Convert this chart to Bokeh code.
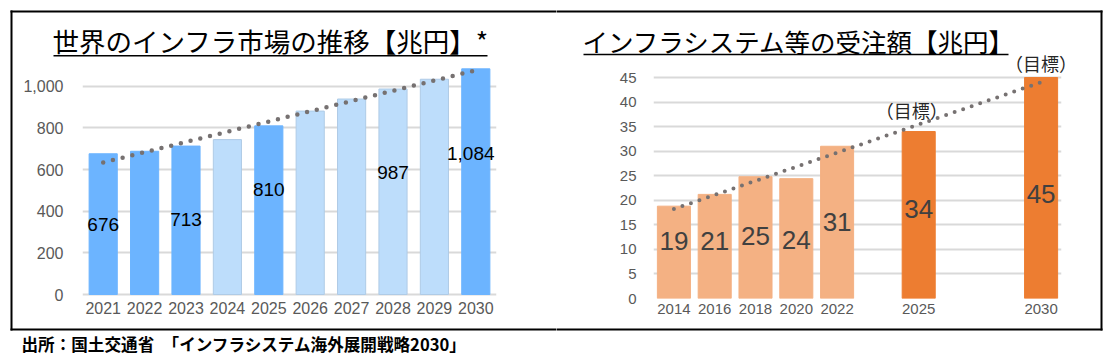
import numpy as np
from bokeh.plotting import figure
from bokeh.layouts import row
from bokeh.models import FixedTicker, NumeralTickFormatter
from bokeh.embed import file_html
from bokeh.resources import INLINE
from bokeh.core.properties import value

# ---------------- data ----------------
# World infrastructure market (trillion yen)
market_years = [2021, 2022, 2023, 2024, 2025, 2026, 2027, 2028, 2029, 2030]
market_values = [676, 688, 713, 744, 810, 881, 939, 987, 1034, 1084]
market_labeled_years = [2021, 2023, 2025, 2028, 2030]
market_title = "世界のインフラ市場の推移【兆円】*"

# Infrastructure system orders (trillion yen)
order_axis = ["2014", "2016", "2018", "2020", "2022", "", "2025", "", "", "2030"]
order_years = ["2014", "2016", "2018", "2020", "2022", "2025", "2030"]
order_values = [18.8, 21.2, 24.8, 24.4, 31.0, 34.0, 45.0]
order_target_years = ["2025", "2030"]
order_title = "インフラシステム等の受注額【兆円】"
target_text = "（目標）"

caption = "出所：国土交通省　「インフラシステム海外展開戦略2030」"

# ---------------- styles ----------------
DARK_BLUE, LIGHT_BLUE, LIGHT_BLUE_LINE = "#6CB4FF", "#BDDDFB", "#AFCBE6"
DARK_BLUE_YEARS = {2021, 2022, 2023, 2025, 2030}
LIGHT_ORANGE, DARK_ORANGE = "#F4B183", "#ED7D31"
GRID = "#D9D9D9"
TICK_COLOR = "#595959"
DOT_COLOR = "#767171"
NUM_FONT = "Liberation Sans"
JP_FONT = "Noto Sans CJK JP"
market_label_y = [335, 359, 503, 585, 676]
market_label_dx = [0, 0, 0, 0, -5]
order_label_y = [11.8, 11.8, 12.7, 12.0, 15.5, 18.3, 21.2]
target_label_y = [38.3, 47.9]
target_label_dx = [-7, 0]

# page geometry (px, page origin at 0,0): outer box 10..1102 x 10..330, border 2px
BOX_L, BOX_R, BOX_T, BOX_B = 10, 1102, 10, 330
SPLIT = 556
FRAME_T, FRAME_B = 65, 298          # common frame top/bottom for both charts
CANVAS_H = 358
L_ZERO_PX, L_PX_PER_UNIT = 294, 229 / 1100   # left chart: value 0 at y=294 px
R_ZERO_PX, R_PX_PER_UNIT = 298, 221 / 45     # right chart: value 0 at y=298 px


def base_fig(fw, x_end, y_start, y_end, ml, mr):
    p = figure(frame_width=fw, frame_height=FRAME_B - FRAME_T,
               x_range=(-0.5, x_end), y_range=(y_start, y_end),
               output_backend="svg", toolbar_location=None,
               min_border_left=ml, min_border_right=mr,
               min_border_top=FRAME_T, min_border_bottom=CANVAS_H - FRAME_B)
    p.title.visible = False
    p.outline_line_color = None
    p.background_fill_color = "white"
    p.border_fill_color = "white"
    p.xgrid.visible = False
    p.ygrid.grid_line_color = GRID
    p.ygrid.grid_line_width = 2
    for ax in (p.xaxis[0], p.yaxis[0]):
        ax.major_tick_line_color = None
        ax.minor_tick_line_color = None
        ax.major_tick_out = 0
        ax.major_tick_in = 0
        ax.axis_line_color = None
        ax.major_label_text_font = NUM_FONT
        ax.major_label_text_color = TICK_COLOR
    return p


def overlay_text(p, x, y, text, font, size, color="black", align="left", style="normal", dx=0):
    p.text(x=[x], y=[y], text=[text], text_font=value(font), text_font_size=size,
           text_color=color, text_align=align, text_baseline="middle",
           text_font_style=style, x_offset=dx, level="overlay")


def overlay_seg(p, x0, y0, x1, y1, width=2):
    p.segment(x0=[x0], y0=[y0], x1=[x1], y1=[y1], line_color="black",
              line_width=width, level="overlay")


# ---------------- left chart ----------------
# frame x 82..496 px
def d1x(px):
    return -0.5 + (px - 82) / 41.4


def d1y(py):
    return (L_ZERO_PX - py) / L_PX_PER_UNIT


p1 = base_fig(414, 9.5, d1y(FRAME_B), d1y(FRAME_T), 82, 60)
x1 = np.arange(len(market_years))
p1.xaxis.ticker = FixedTicker(ticks=list(x1))
p1.xaxis.major_label_overrides = {int(i): str(y) for i, y in zip(x1, market_years)}
p1.xaxis.major_label_text_font_size = "16px"
p1.xaxis.major_label_standoff = 3
p1.yaxis.ticker = FixedTicker(ticks=list(range(0, 1001, 200)))
p1.yaxis.formatter = NumeralTickFormatter(format="0,0")
p1.yaxis.major_label_text_font_size = "16px"
p1.yaxis.major_label_standoff = 19

fills1 = [DARK_BLUE if y in DARK_BLUE_YEARS else LIGHT_BLUE for y in market_years]
lines1 = [DARK_BLUE if y in DARK_BLUE_YEARS else LIGHT_BLUE_LINE for y in market_years]
p1.vbar(x=x1, top=market_values, bottom=0, width=0.68, fill_color=fills1, line_color=lines1, line_width=1)

c1 = np.polyfit(x1, market_values, 1)
tx1 = np.array([x1[0], x1[-1]], dtype=float)
p1.line(tx1, np.polyval(c1, tx1), line_color=DOT_COLOR, line_width=4.5, line_dash="0 10", line_cap="round")

for yr, ly, dx in zip(market_labeled_years, market_label_y, market_label_dx):
    i = market_years.index(yr)
    overlay_text(p1, i, ly, f"{market_values[i]:,}", NUM_FONT, "19px", align="center", dx=dx)

overlay_text(p1, d1x(52), d1y(40), market_title, JP_FONT, "26.5px")
overlay_seg(p1, d1x(53), d1y(55.2), d1x(487), d1y(55.2), width=1.5)
overlay_text(p1, d1x(21), d1y(343.5), caption, JP_FONT, "16.6px", style="bold")
overlay_seg(p1, d1x(BOX_L), d1y(BOX_T + 1), d1x(SPLIT), d1y(BOX_T + 1))
overlay_seg(p1, d1x(BOX_L), d1y(BOX_B - 1), d1x(SPLIT), d1y(BOX_B - 1))
overlay_seg(p1, d1x(BOX_L + 1), d1y(BOX_T), d1x(BOX_L + 1), d1y(BOX_B))


# ---------------- right chart ----------------
# frame x 653..1061 px
def d2x(px):
    return -0.5 + (px - 653) / 40.8


def d2y(py):
    return (R_ZERO_PX - py) / R_PX_PER_UNIT


p2 = base_fig(408, 9.5, d2y(FRAME_B), d2y(FRAME_T), 97, 45)
x2 = [order_axis.index(y) for y in order_years]
p2.xaxis.ticker = FixedTicker(ticks=x2)
p2.xaxis.major_label_overrides = {int(i): y for i, y in zip(x2, order_years)}
p2.xaxis.major_label_text_font_size = "15px"
p2.xaxis.major_label_standoff = 5
p2.yaxis.ticker = FixedTicker(ticks=list(range(0, 46, 5)))
p2.yaxis.major_label_text_font_size = "15px"
p2.yaxis.major_label_standoff = 17

fills2 = [DARK_ORANGE if y in order_target_years else LIGHT_ORANGE for y in order_years]
p2.vbar(x=x2, top=order_values, bottom=0, width=0.81, fill_color=fills2, line_color=fills2, line_width=1)

c2 = np.polyfit(x2, order_values, 1)
tx2 = np.array([0, len(order_axis) - 1], dtype=float)
p2.line(tx2, np.polyval(c2, tx2), line_color=DOT_COLOR, line_width=4, line_dash="0 9", line_cap="round")

for xi, v, ly in zip(x2, order_values, order_label_y):
    overlay_text(p2, xi, ly, f"{v:.0f}", NUM_FONT, "26px", color="#404040", align="center")

for yr, ly, dx in zip(order_target_years, target_label_y, target_label_dx):
    overlay_text(p2, order_axis.index(yr), ly, target_text, JP_FONT, "18px",
                 color="#262626", align="center", dx=dx)

overlay_text(p2, d2x(582), d2y(40), order_title, JP_FONT, "25.5px")
overlay_seg(p2, d2x(583), d2y(54), d2x(1008), d2y(54), width=1.5)
overlay_seg(p2, d2x(SPLIT), d2y(BOX_T + 1), d2x(BOX_R), d2y(BOX_T + 1))
overlay_seg(p2, d2x(SPLIT), d2y(BOX_B - 1), d2x(BOX_R), d2y(BOX_B - 1))
overlay_seg(p2, d2x(BOX_R - 1), d2y(BOX_T), d2x(BOX_R - 1), d2y(BOX_B))

layout = row(p1, p2)
open("out.html", "w").write(file_html(layout, INLINE))
